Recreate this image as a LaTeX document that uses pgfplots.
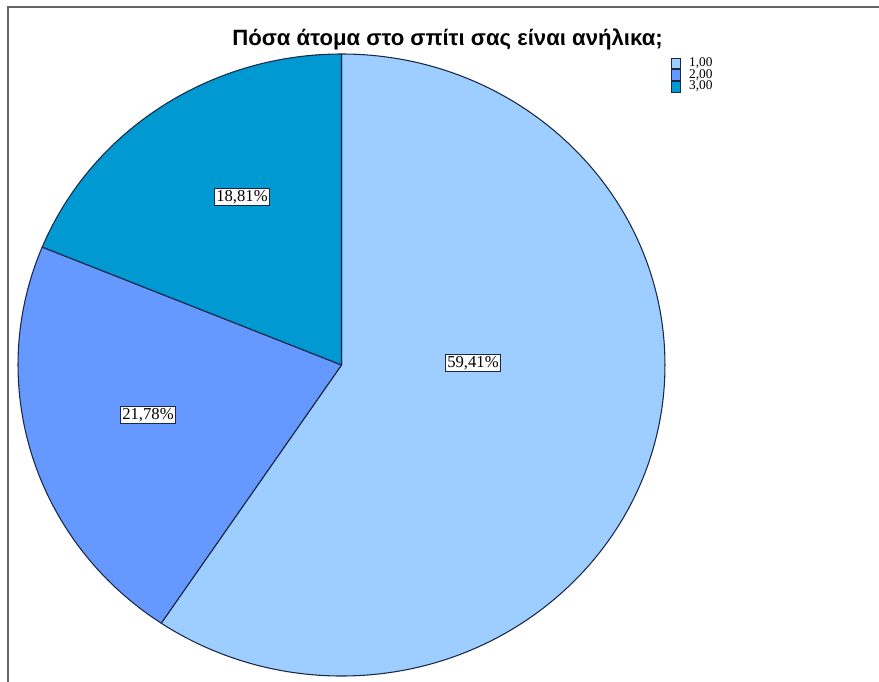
\documentclass[border=0pt]{standalone}
\usepackage{fontspec}
\setmainfont{Liberation Serif}
\newfontfamily\titlefont{Liberation Sans}
\usepackage{pgfplots}
\usepackage{pgfplotstable}
\pgfplotsset{compat=1.18}
\definecolor{cA}{RGB}{158,206,255}
\definecolor{cB}{RGB}{102,153,255}
\definecolor{cC}{RGB}{0,153,210}
\definecolor{edge}{RGB}{25,40,70}
\definecolor{frame}{RGB}{100,100,100}
\pgfplotstableread{
cat value
1 59.41
2 21.78
3 18.81
}\piedata
\begin{document}
\begin{tikzpicture}
\pgfplotstablegetelem{0}{value}\of\piedata \let\va\pgfplotsretval
\pgfplotstablegetelem{1}{value}\of\piedata \let\vb\pgfplotsretval
\pgfplotstablegetelem{2}{value}\of\piedata \let\vc\pgfplotsretval
\pgfmathsetmacro\aS{90}
\pgfmathsetmacro\aA{90-3.6*\va}
\pgfmathsetmacro\aB{\aA-3.6*\vb}
\pgfmathsetmacro\aC{\aB-3.6*\vc}
\begin{axis}[
  scale only axis, width=659.25pt, height=511.5pt,
  xmin=0, xmax=879, ymin=0, ymax=682, y dir=reverse,
  hide axis, clip=false,
  legend style={at={(axis cs:670.5,57.5)}, anchor=north west, draw=none, fill=none,
    font=\fontsize{10}{10.5}\selectfont, row sep=0pt, inner sep=0pt, outer sep=0pt,
    nodes={inner sep=0pt, text height=6.5pt, text depth=1.8pt},
    /tikz/every odd column/.append style={column sep=6.5pt}},
  legend cell align=left,
  legend image code/.code={\filldraw[#1] (-0.5pt,-4.1pt) rectangle (6.5pt,4.1pt);},
]
\addlegendimage{fill=cA, draw=edge, line width=0.5pt}
\addlegendentry{1,00}
\addlegendimage{fill=cB, draw=edge, line width=0.5pt}
\addlegendentry{2,00}
\addlegendimage{fill=cC, draw=edge, line width=0.5pt}
\addlegendentry{3,00}
\draw[frame, line width=1.2pt] (axis cs:8,682) -- (axis cs:8,7) -- (axis cs:879,7);
\filldraw[fill=cA, draw=edge, line width=0.8pt, line join=round] (axis cs:341.5,365) -- ++(\aS:242.6pt and 233.25pt) arc[start angle=\aS, end angle=\aA, x radius=242.6pt, y radius=233.25pt] -- cycle;
\filldraw[fill=cB, draw=edge, line width=0.8pt, line join=round] (axis cs:341.5,365) -- ++(\aA:242.6pt and 233.25pt) arc[start angle=\aA, end angle=\aB, x radius=242.6pt, y radius=233.25pt] -- cycle;
\filldraw[fill=cC, draw=edge, line width=0.8pt, line join=round] (axis cs:341.5,365) -- ++(\aB:242.6pt and 233.25pt) arc[start angle=\aB, end angle=\aC, x radius=242.6pt, y radius=233.25pt] -- cycle;
\node[anchor=base, font=\titlefont\bfseries\fontsize{16.6}{18}\selectfont] at (axis cs:447.5,45) {Πόσα άτομα στο σπίτι σας είναι ανήλικα;};
\tikzset{lbl/.style={draw=edge, fill=white, line width=0.6pt, inner sep=1.3pt, font=\fontsize{12.5}{13}\selectfont}}
\node[lbl] at (axis cs:473,363) {59,41\%};
\node[lbl] at (axis cs:148,415) {21,78\%};
\node[lbl] at (axis cs:242,197) {18,81\%};
\end{axis}
\pgfresetboundingbox
\path (current axis.south west) rectangle (current axis.north east);
\end{tikzpicture}
\end{document}
